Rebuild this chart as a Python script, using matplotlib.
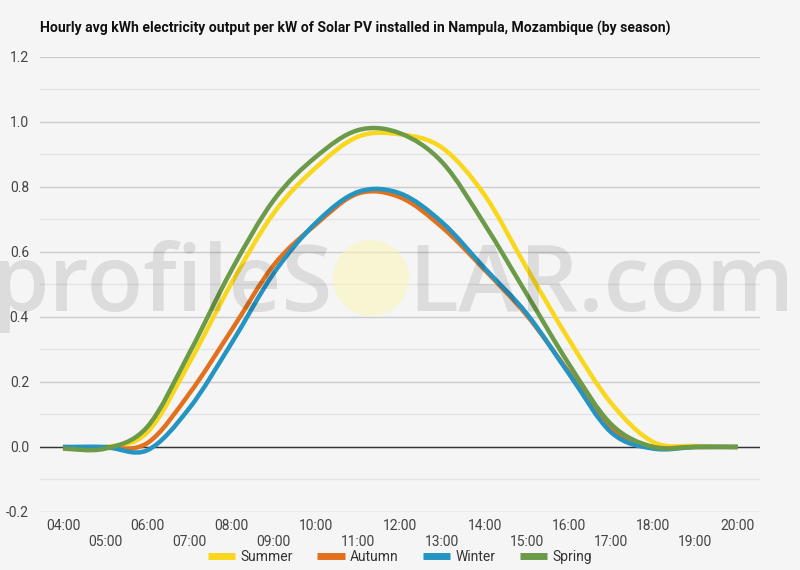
import matplotlib
matplotlib.use('Agg')
import numpy as np
import matplotlib.pyplot as plt
from matplotlib.path import Path
from matplotlib.patches import PathPatch, Circle
from matplotlib.lines import Line2D

hours = [4, 5, 6, 7, 8, 9, 10, 11, 12, 13, 14, 15, 16, 17, 18, 19, 20]
hour_labels = ['%02d:00' % h for h in hours]

summer = [0.0, 0.0, 0.045, 0.26, 0.505, 0.72, 0.86, 0.955, 0.962, 0.92, 0.775, 0.55, 0.33, 0.135, 0.015, 0.003, 0.0]
autumn = [0.0, -0.003, 0.012, 0.165, 0.36, 0.56, 0.685, 0.78, 0.768, 0.675, 0.545, 0.405, 0.23, 0.055, 0.0, 0.0, 0.0]
winter = [0.0, 0.0, -0.01, 0.12, 0.32, 0.535, 0.69, 0.785, 0.78, 0.69, 0.55, 0.41, 0.225, 0.045, -0.005, 0.0, 0.0]
spring = [-0.005, -0.005, 0.062, 0.29, 0.545, 0.76, 0.893, 0.975, 0.965, 0.875, 0.685, 0.47, 0.255, 0.07, 0.0, 0.0, 0.0]

series = [('Summer', summer, '#f9d71c'),
          ('Autumn', autumn, '#e2711d'),
          ('Winter', winter, '#2494c2'),
          ('Spring', spring, '#6b9a48')]

BG = '#f5f5f5'


def smooth_path(x, y):
    # cubic bezier through each point (catmull-rom control points)
    pts = np.column_stack([x, y]).astype(float)
    n = len(pts)
    verts = [pts[0]]
    codes = [Path.MOVETO]
    for i in range(n - 1):
        p0 = pts[max(i - 1, 0)]
        p1 = pts[i]
        p2 = pts[i + 1]
        p3 = pts[min(i + 2, n - 1)]
        c1 = p1 + (p2 - p0) / 6.0
        c2 = p2 - (p3 - p1) / 6.0
        verts += [c1, c2, p2]
        codes += [Path.CURVE4] * 3
    return Path(verts, codes)


plt.rcParams['font.family'] = ['Roboto', 'DejaVu Sans']

fig = plt.figure(figsize=(8, 5.7), dpi=100, facecolor=BG)
ax = fig.add_axes([0.05, 0.1018, 0.90, 0.7982])
ax.set_facecolor(BG)

ax.set_xlim(3.455, 20.53)
ax.set_ylim(-0.2, 1.2)

ax.set_yticks(np.arange(-0.2, 1.21, 0.2))
ax.set_yticklabels(['%.1f' % v for v in np.arange(-0.2, 1.21, 0.2)])
ax.set_yticks(np.arange(-0.1, 1.2, 0.2), minor=True)
ax.grid(which='major', axis='y', color='#cccccc', lw=1)
ax.grid(which='minor', axis='y', color='#e4e4e4', lw=1)
ax.axhline(0, color='#333333', lw=1, zorder=2)

ax.set_xticks(hours)
ax.set_xticklabels([lab if i % 2 == 0 else '\n' + lab for i, lab in enumerate(hour_labels)])
ax.tick_params(axis='both', which='both', length=0, labelsize=10, colors='#444444')
ax.tick_params(axis='x', pad=5)
ax.tick_params(axis='y', pad=8)
for s in ax.spines.values():
    s.set_visible(False)

for name, vals, col in series:
    p = smooth_path(hours, vals)
    ax.add_patch(PathPatch(p, facecolor='none', edgecolor=col, lw=3.2,
                           capstyle='butt', joinstyle='round', zorder=3))

# watermark
fig.text(333 / 800, 1 - 311 / 570, 'profileS', ha='right', va='baseline',
         fontsize=66.5, family='Open Sans', weight='semibold',
         color='black', alpha=0.1, zorder=10)
fig.text(408 / 800, 1 - 311 / 570, 'LAR.com', ha='left', va='baseline',
         fontsize=66.5, family='Open Sans', weight='semibold',
         color='black', alpha=0.1, zorder=10)
sun = Circle((371, 570 - 278), 38, transform=None, facecolor='#fbf5b8',
             edgecolor='none', alpha=0.55, zorder=10)
fig.patches.append(sun)

fig.text(40 / 800, 1 - 28 / 570,
         'Hourly avg kWh electricity output per kW of Solar PV installed in Nampula, Mozambique (by season)',
         ha='left', va='center', fontsize=10.1, weight='bold', color='#111111')

handles = [Line2D([], [], color=c, lw=5, solid_capstyle='butt') for _, _, c in series]
fig.legend(handles, [n for n, _, _ in series], loc='center',
           bbox_to_anchor=(0.5, 1 - 557 / 570), ncol=4, frameon=False,
           fontsize=10, handlelength=2.0, handletextpad=0.4, columnspacing=1.7,
           labelcolor='#333333')

fig.savefig('out.png', dpi=100, facecolor=BG)
